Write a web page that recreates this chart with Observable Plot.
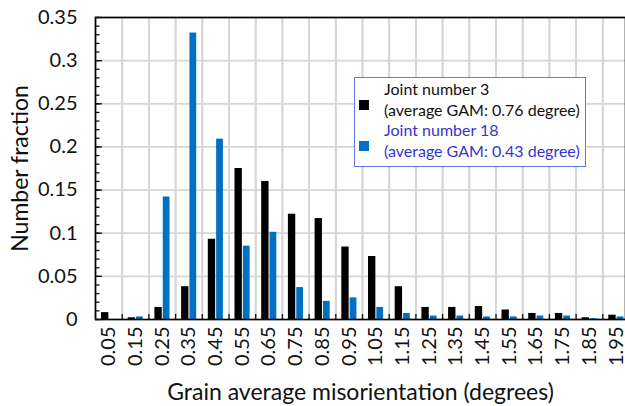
<!DOCTYPE html>
<html>
<head>
<meta charset="utf-8">
<script src="https://cdn.jsdelivr.net/npm/d3@7"></script>
<script src="https://cdn.jsdelivr.net/npm/@observablehq/plot@0.6"></script>
<style>
  html, body { margin: 0; padding: 0; background: #fff; overflow: hidden; }
  #chart { position: relative; width: 625px; height: 406px; overflow: hidden; font-family: Lato, sans-serif; color: #111; }
  #chart svg { display: block; }
  #legend {
    position: absolute; left: 354px; top: 77px; width: 232px; height: 90px;
    box-sizing: border-box; border: 1px solid #5b78ee; background: #fff;
    font-size: 16px; line-height: 20.7px; padding: 1px 0 0 0;
  }
  .entry { position: relative; padding-left: 29px; }
  .swatch { position: absolute; left: 4px; top: 21px; width: 10px; height: 10px; }
</style>
</head>
<body>
<div id="chart"></div>
<script>
// Bin centres of grain average misorientation (degrees)
const bins = ["0.05", "0.15", "0.25", "0.35", "0.45", "0.55", "0.65", "0.75", "0.85", "0.95",
              "1.05", "1.15", "1.25", "1.35", "1.45", "1.55", "1.65", "1.75", "1.85", "1.95"];

// Number fraction per bin
const joint3  = [0.008, 0.002, 0.014, 0.038, 0.093, 0.175, 0.160, 0.122, 0.117, 0.084,
                 0.073, 0.038, 0.014, 0.014, 0.015, 0.011, 0.007, 0.007, 0.002, 0.005];
const joint18 = [0.000, 0.003, 0.142, 0.332, 0.209, 0.085, 0.101, 0.037, 0.021, 0.025,
                 0.014, 0.007, 0.004, 0.004, 0.003, 0.003, 0.004, 0.004, 0.001, 0.003];

const yTicks = [0, 0.05, 0.1, 0.15, 0.2, 0.25, 0.3, 0.35];

const seriesNames = ["Joint number 3", "Joint number 18"];
const seriesNotes = ["(average GAM: 0.76 degree)", "(average GAM: 0.43 degree)"];
const seriesColors = ["#000000", "#0070c0"];
const legendTextColors = ["#111111", "#3535d0"];

const rows3 = bins.map((bin, i) => ({bin, value: joint3[i]}));
const rows18 = bins.map((bin, i) => ({bin, value: joint18[i]}));

const minorTicks = d3.range(0, 0.3501, 0.01);
const tickFont = 20;
const titleFont = 23;
const half = 534 / bins.length / 2;   // half a band, to reach bin edges
const gridStyle = {stroke: "#d6d6d6", strokeOpacity: 1, strokeWidth: 1.8};

const chart = Plot.plot({
  width: 625,
  height: 406,
  marginLeft: 95,
  marginRight: 0,
  marginTop: 17,
  marginBottom: 87,
  style: {fontFamily: "Lato, sans-serif", fontSize: tickFont + "px", color: "#111", background: "#fff"},
  x: {domain: bins, range: [95, 629], padding: 0, round: false},
  y: {domain: [0, 0.35], round: false},
  marks: [
    Plot.gridY(yTicks, gridStyle),
    // vertical grid at bin edges, drawn as full-height ticks
    Plot.gridX(bins, {dx: -half, ...gridStyle}),
    Plot.axisX(bins, {tickSize: -302, tickFormat: () => "", label: null, dx: -half, ...gridStyle}),
    Plot.barY(rows3, {x: "bin", y: "value", fill: seriesColors[0], insetLeft: 6, insetRight: 13.35}),
    Plot.barY(rows18, {x: "bin", y: "value", fill: seriesColors[1], insetLeft: 14.35, insetRight: 5.6}),
    Plot.frame({stroke: "#000", strokeWidth: 1.6}),
    // inward tick marks
    Plot.axisY(minorTicks, {tickSize: -4.5, tickFormat: () => "", label: null, strokeWidth: 1.3}),
    Plot.axisY(yTicks, {tickSize: -7, tickFormat: () => "", label: null, strokeWidth: 1.3}),
    Plot.axisX(bins, {tickSize: -5, tickFormat: () => "", label: null, dx: -half, strokeWidth: 1.3}),
    // tick labels
    Plot.axisY(yTicks, {tickSize: 0, tickPadding: 18, tickFormat: d => String(d), fontSize: tickFont, label: null}),
    Plot.axisX(bins, {tickSize: 0, tickPadding: 7, tickRotate: -90, fontSize: tickFont, label: null}),
    // axis titles
    Plot.axisY(yTicks, {
      tickSize: 0, tickFormat: () => "", fontSize: titleFont,
      label: "Number fraction", labelAnchor: "center", labelArrow: "none", labelOffset: 84
    }),
    Plot.axisX(bins, {
      tickSize: 0, tickFormat: () => "", fontSize: titleFont,
      label: "Grain average misorientation (degrees)", labelAnchor: "center", labelArrow: "none", labelOffset: 80
    })
  ]
});

const root = document.getElementById("chart");
root.appendChild(chart);

// legend box inside the plot area
const legend = document.createElement("div");
legend.id = "legend";
seriesNames.forEach((name, i) => {
  const entry = document.createElement("div");
  entry.className = "entry";
  entry.style.color = legendTextColors[i];
  const sw = document.createElement("span");
  sw.className = "swatch";
  sw.style.background = seriesColors[i];
  entry.appendChild(sw);
  entry.appendChild(document.createTextNode(name));
  entry.appendChild(document.createElement("br"));
  entry.appendChild(document.createTextNode(seriesNotes[i]));
  legend.appendChild(entry);
});
root.appendChild(legend);
</script>
</body>
</html>
